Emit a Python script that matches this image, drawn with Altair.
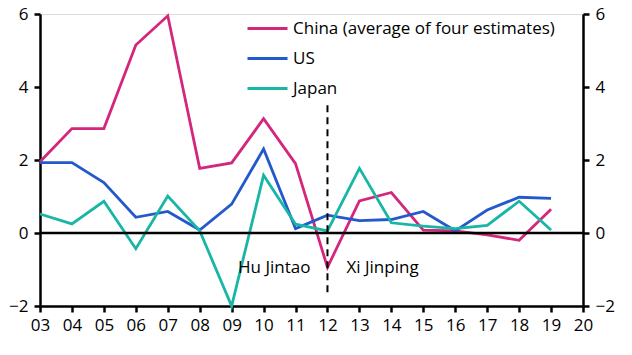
import altair as alt
import pandas as pd

years = list(range(3, 20))
china = [1.95, 2.86, 2.86, 5.15, 5.95, 1.77, 1.92, 3.13, 1.9, -0.94, 0.88, 1.11, 0.08, 0.06, -0.05, -0.2, 0.65]
us = [1.93, 1.93, 1.38, 0.43, 0.59, 0.08, 0.79, 2.3, 0.12, 0.49, 0.34, 0.37, 0.59, 0.06, 0.63, 0.98, 0.95]
japan = [0.52, 0.25, 0.87, -0.43, 1.01, 0.06, -2.0, 1.58, 0.24, 0.06, 1.77, 0.28, 0.19, 0.12, 0.21, 0.87, 0.08]
series_names = ["China (average of four estimates)", "US", "Japan"]
colors = ["#d4267c", "#2459cc", "#17b6a6"]

rows = []
for name, vals in zip(series_names, [china, us, japan]):
    for yr, v in zip(years, vals):
        rows.append({"year": yr, "value": v, "series": name})
df = pd.DataFrame(rows)

label_text = ["Hu Jintao", "Xi Jinping"]
label_x = [12, 12]
label_y = [-0.95, -0.95]

FONT = "Open Sans"
FS = 17
xscale = alt.Scale(domain=[3, 20], nice=False)
yscale = alt.Scale(domain=[-2, 6], nice=False)


def yaxis(orient):
    return alt.Axis(orient=orient, values=[-2, 0, 2, 4, 6], domainColor="black", domainWidth=2.5,
                    tickColor="black", tickWidth=2.5, tickSize=6, labelFontSize=FS, labelFont=FONT,
                    labelColor="black", labelPadding=6, grid=False, title=None, labelOverlap=False,
                    labelFlush=False)


x_axis = alt.Axis(values=list(range(3, 21)), labelExpr="datum.value < 10 ? '0' + datum.value : '' + datum.value",
                  domainColor="black", domainWidth=2.5, tickColor="black", tickWidth=2.5, tickSize=6,
                  labelFontSize=FS, labelFont=FONT, labelColor="black", labelPadding=5, grid=False, title=None,
                  labelOverlap=False, labelFlush=False, labelBound=False)

lines = alt.Chart(df).mark_line(strokeWidth=2.8).encode(
    x=alt.X("year:Q", scale=xscale, axis=x_axis),
    y=alt.Y("value:Q", scale=yscale, axis=yaxis("left")),
    color=alt.Color("series:N", sort=series_names, scale=alt.Scale(domain=series_names, range=colors),
                    legend=alt.Legend(orient="none", legendX=206, legendY=-7, title=None, symbolType="stroke",
                                      symbolSize=1600, symbolStrokeWidth=3, labelFontSize=FS, labelFont=FONT,
                                      labelColor="black", rowPadding=-5, labelOffset=4, labelLimit=0)),
)

zero = alt.Chart(pd.DataFrame({"v": [0]})).mark_rule(color="black", strokeWidth=2.5).encode(
    y=alt.Y("v:Q", scale=yscale, axis=yaxis("right")),
)

dash = alt.Chart(pd.DataFrame({"x": [12], "y1": [3.5], "y2": [-1.7]})).mark_rule(
    color="black", strokeWidth=2, strokeDash=[7, 5]).encode(
    x=alt.X("x:Q", scale=xscale, axis=x_axis), y=alt.Y("y1:Q", scale=yscale, axis=None), y2="y2:Q")

ldf = pd.DataFrame({"t": label_text, "x": label_x, "y": label_y})
hu = alt.Chart(ldf.iloc[[0]]).mark_text(align="right", dx=-17, fontSize=FS, font=FONT, color="black").encode(
    x=alt.X("x:Q", scale=xscale, axis=x_axis), y=alt.Y("y:Q", scale=yscale, axis=None), text="t:N")
xi = alt.Chart(ldf.iloc[[1]]).mark_text(align="left", dx=19, fontSize=FS, font=FONT, color="black").encode(
    x=alt.X("x:Q", scale=xscale, axis=x_axis), y=alt.Y("y:Q", scale=yscale, axis=None), text="t:N")

chart = alt.layer(lines, zero, dash, hu, xi).resolve_axis(y="independent").properties(
    width=543, height=292,
    autosize=alt.AutoSizeParams(type="none"),
    padding={"left": 40, "top": 14, "right": 49, "bottom": 49},
).configure_view(stroke=None).configure(background="white")

chart.save("out.html", embed_options={"renderer": "svg", "actions": False})
